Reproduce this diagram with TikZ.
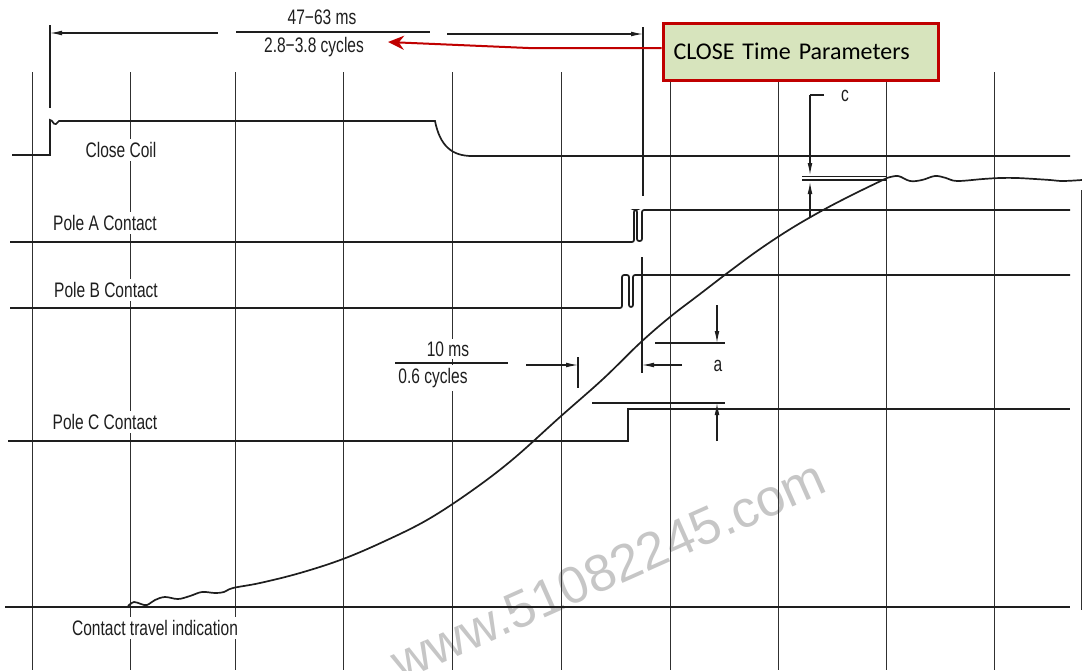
\documentclass[tikz,border=0pt]{standalone}
\usepackage{fontspec}
\setmainfont{Liberation Sans}
\newfontfamily\cadfont{Liberation Sans}[FakeStretch=0.74]
\newfontfamily\boxfont{Carlito}
\usepackage{xcolor}
\definecolor{Scan Ink}{HTML}{1E1E1E}
\definecolor{Grid Ink}{HTML}{303030}
\definecolor{Callout Red}{HTML}{C00000}
\definecolor{Callout Green}{HTML}{D7E4BD}
\definecolor{Stamp Grey}{HTML}{C6C6C6}
\colorlet{cInk}{Scan Ink}
\colorlet{cGrid}{Grid Ink}
\colorlet{cRed}{Callout Red}
\colorlet{cGreen}{Callout Green}
\colorlet{cStamp}{Stamp Grey}
\usepackage{tikz}
\usetikzlibrary{arrows.meta}
\tikzset{
	x = .5pt,
	y = -.5pt,
	line width = .8pt,
	>={Latex[length=6pt, width=2.4pt]},
	font = \cadfont\fontsize{10.5}{12}\selectfont,
	gridline/.style={
		draw=cGrid,
		line width=.5pt
	},
	trace/.style={
		draw=cInk,
		line width=.85pt
	},
	dimline/.style={
		draw=cInk,
		line width=.55pt
	},
	tag/.style={
		fill=white,
		inner sep=1.5pt,
		text=cInk
	},
	callout/.style={
		draw=cRed,
		fill=cGreen,
		line width=1.5pt,
		font=\boxfont\fontsize{12}{14}\selectfont,
		minimum width=137.5pt,
		minimum height=28.5pt,
		text width=127pt,
		inner xsep=5pt,
		align=left
	},
	pointer/.style={
		-{Stealth[length=8pt, width=7pt]},
		draw=cRed,
		line width=1pt
	}
}

\begin{document}
\begin{tikzpicture}
\useasboundingbox (0,0) rectangle (1082,670);
\clip (0,0) rectangle (1082,670);

% ---
% stamp
% ---
\node[rotate=24, text=cStamp, font={\rmfamily\fontsize{26}{27}\selectfont}] (stamp) at (608,570) {www.51082245.com};

% ---
% grid
% ---
\foreach \gx in {32,130,235,343,452,561,670,778,886,994}
	\draw[gridline] (\gx,72) -- (\gx,670);
\draw[gridline, line width=.4pt] (1081,190) -- (1081,610);

% ---
% close coil
% ---
\draw[trace] (12,155) -- (50,155) -- (50,120) .. controls (53,120) and (53,125) .. (56,124) .. controls (57,123) .. (59,121)
	-- (435,121) .. controls (440,146) and (452,156) .. (472,156) -- (1070,156);

% ---
% pole contacts
% ---
\draw[trace, rounded corners=1pt] (10,242) -- (634,242) -- (634,210) -- (637,210) -- (637,241) -- (642,241) -- (642,210) -- (1070,210);
\draw[trace, rounded corners=1pt] (10,308) -- (622,308) -- (622,275) -- (629,275) -- (629,307) -- (633,307) -- (633,275) -- (1070,275);
\draw[trace] (8,441) -- (628,441) -- (628,409) -- (1070,409);

% ---
% contact travel
% ---
\draw[trace] (5,607) -- (1070,607);
\draw[trace] plot[smooth, tension=.6] coordinates {
	(128,606) (134,602) (141,604) (147,605) (155,600) (165,597) (178,599) (190,596)
	(202,592) (215,593) (224,592) (233,588) (260,583) (300,573) (343,559) (385,541)
	(427,520) (470,492) (512,460) (560,417) (603,379) (640,343) (670,317) (700,294)
	(730,271) (760,249) (792,228) (825,209) (856,193) (887,178)};
\draw[trace] plot[smooth, tension=.6] coordinates {
	(887,178) (898,176) (910,181) (922,180) (935,176) (946,178) (957,181) (983,179)
	(1000,178) (1017,178) (1035,179) (1050,180) (1063,181) (1082,180)};
\draw[dimline] (802,176.5) -- (887,176.5);
\draw[dimline] (802,180) -- (887,180);

% ---
% close time
% ---
\draw[dimline] (50,25) -- (50,108);
\draw[dimline] (643,27) -- (643,196);
\draw[dimline, <-] (50,33) -- (218,33);
\draw[dimline, ->] (447,34) -- (643,34);
\draw[dimline] (236,32) -- (430,32);
\node[tag] (span-ms) at (322,17) {47−63 ms};
\node[tag] (span-cyc) at (314,47) {2.8−3.8 cycles};

% ---
% 10 ms spread
% ---
\draw[dimline] (395,363) -- (508,363);
\node[tag] (gap-ms) at (448,349) {10 ms};
\node[tag] (gap-cyc) at (433,378) {0.6 cycles};
\draw[dimline] (578,357) -- (578,388);
\draw[dimline] (642,257) -- (642,373);
\draw[dimline, ->] (526,365) -- (578,365);
\draw[dimline, ->] (682,365) -- (642,365);

% ---
% a
% ---
\draw[dimline] (655,343) -- (725,343);
\draw[dimline] (592,403) -- (725,403);
\draw[dimline, ->] (717,305) -- (717,343);
\draw[dimline, ->] (717,441) -- (717,403);
\node[tag] (dim-a) at (718,366) {a};

% ---
% c
% ---
\draw[dimline] (824,95) -- (810,95);
\draw[dimline, ->] (810,95) -- (810,175);
\draw[dimline, ->] (810,217) -- (810,182);
\node[tag] (dim-c) at (845,96) {c};

% ---
% labels
% ---
\node[tag] (lbl-coil) at (121,150) {Close Coil};
\node[tag] (lbl-a) at (105,223) {Pole A Contact};
\node[tag] (lbl-b) at (106,290) {Pole B Contact};
\node[tag] (lbl-c) at (105,422) {Pole C Contact};
\node[tag] (lbl-travel) at (155,628) {Contact travel indication};

% ---
% callout
% ---
\node[callout] (close-box) at (800.5,51.5) {CLOSE Time Parameters};
\coordinate (close-tip) at (388,42);
\draw[pointer] ([yshift=1.75pt]close-box.west) -- ++(-133,0) -- (close-tip);
\end{tikzpicture}
\end{document}
